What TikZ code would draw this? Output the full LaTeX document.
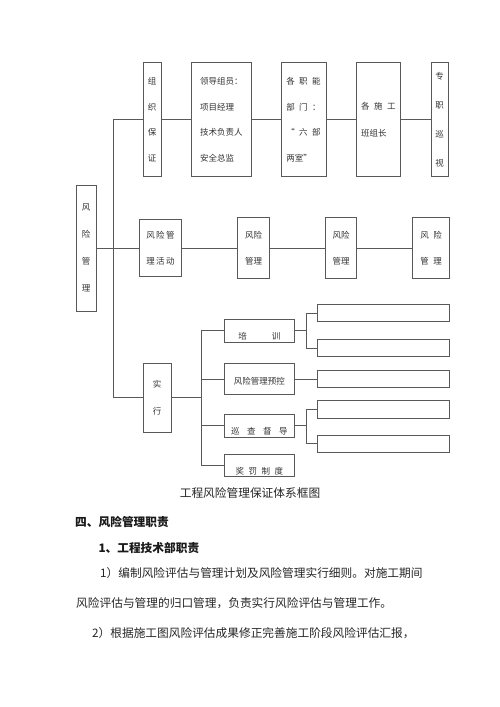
\documentclass[tikz,border=0pt]{standalone}
\usepackage{fontspec}
\newfontfamily\cjk{Noto Sans CJK SC}
\definecolor{linec}{gray}{0.35}
\definecolor{txt}{gray}{0.2}
\newcommand{\kgap}{\hspace{4.5pt}}
\tikzset{
  box/.style={draw=linec, line width=0.8pt, inner sep=0pt, align=center, text=txt},
  lsk/.style={font=\cjk\fontsize{8.5}{#1}\selectfont},
  lsk/.default=26,
  conn/.style={draw=linec, line width=0.8pt},
  para/.style={inner sep=0pt, text=black!85, font=\cjk\fontsize{11.7}{14}\selectfont},
  parab/.style={inner sep=0pt, text=black!90, font=\cjk\bfseries\fontsize{11.7}{14}\selectfont},
}
\begin{document}
\begin{tikzpicture}[x=1pt,y=-1pt]
\useasboundingbox (0,0) rectangle (500,707);
\fill[white] (0,0) rectangle (500,707);

% left root
\node[box, lsk=27, minimum width=20pt, minimum height=126pt] (risk) at (86,248) {风\\险\\管\\理};

% top row
\node[box, lsk=25.7, minimum width=18pt, minimum height=114pt] (org) at (152,119.7) {组\\织\\保\\证};
\node[box, lsk=25.7, align=left, minimum width=59.3pt, minimum height=114pt] (lead) at (221.3,119.7) {领导组员：\\项目经理\\技术负责人\\安全总监};
\node[box, lsk=25.7, align=left, minimum width=45pt, minimum height=114pt] (func) at (303.5,119.7) {各\kgap 职\kgap 能\\部\kgap 门\kgap ：\\“\kgap 六\kgap 部\\两室”};
\node[box, lsk=27, align=left, minimum width=44.7pt, minimum height=114pt] (team) at (378.3,119.7) {各\kgap 施\kgap 工\\班组长};
\node[box, lsk=29, minimum width=17pt, minimum height=114pt] (patrol) at (439.7,119.7) {专\\职\\巡\\视};

% middle row
\node[box, lsk=26.3, minimum width=42.4pt, minimum height=57.4pt] (act) at (160.5,248) {风\hspace{1.5pt}险\hspace{1.5pt}管\\理\hspace{1.5pt}活\hspace{1.5pt}动};
\node[box, lsk=26.3, minimum width=31.6pt, minimum height=61pt] (m1) at (253.5,248) {风险\\管理};
\node[box, lsk=26.3, minimum width=31pt, minimum height=60.6pt] (m2) at (341.2,248) {风险\\管理};
\node[box, lsk=26.3, minimum width=36.6pt, minimum height=61pt] (m3) at (431,248) {风\kgap 险\\管\kgap 理};

% bottom part
\node[box, lsk=26.7, minimum width=27.7pt, minimum height=69pt] (impl) at (157.2,397.8) {实\\行};
\node[box, lsk, minimum width=70pt, minimum height=23pt, text height=18pt, text depth=0pt] (train) at (259.3,330.8) {培\hspace{25pt}训};
\node[box, lsk, minimum width=70pt, minimum height=30.7pt, text height=11.6pt, text depth=0pt] (yukong) at (259.3,379) {风险管理预控};
\node[box, lsk, minimum width=70pt, minimum height=23.7pt, text height=18pt, text depth=0pt] (xun) at (259.3,425.8) {巡\hspace{7.5pt}查\hspace{7.5pt}督\hspace{7.5pt}导};
\node[box, lsk, minimum width=70pt, minimum height=22.4pt, text height=17pt, text depth=0pt] (jiang) at (259.3,465.5) {奖\kgap 罚\kgap 制\kgap 度};

\node[box, minimum width=131.3pt, minimum height=17.4pt] (r1) at (383.3,313) {};
\node[box, minimum width=131.3pt, minimum height=17.4pt] (r2) at (383.3,348) {};
\node[box, minimum width=131.3pt, minimum height=17.4pt] (r3) at (383.3,379) {};
\node[box, minimum width=131.3pt, minimum height=17.4pt] (r4) at (383.3,409.5) {};
\node[box, minimum width=131.3pt, minimum height=17.4pt] (r5) at (383.3,443.8) {};

% connectors
\coordinate (mj) at (113,248);
\draw[conn] (risk.east) -- (act.west);
\draw[conn] (org.west) -| (mj);
\draw[conn] (impl.west) -| (mj);
\draw[conn] (org.east) -- (lead.west);
\draw[conn] (lead.east) -- (func.west);
\draw[conn] (func.east) -- (team.west);
\draw[conn] (team.east) -- (patrol.west);
\draw[conn] (act.east) -- (m1.west);
\draw[conn] (m1.east) -- (m2.west);
\draw[conn] (m2.east) -- (m3.west);

\coordinate (sj) at (201,397.8);
\draw[conn] (impl.east) -- (sj);
\draw[conn] (train.west) -| (sj);
\draw[conn] (yukong.west) -| (sj);
\draw[conn] (xun.west) -| (sj);
\draw[conn] (jiang.west) -| (sj);

\coordinate (tj) at (306,330.8);
\draw[conn] (train.east) -- (tj);
\draw[conn] (r1.west) -| (tj);
\draw[conn] (r2.west) -| (tj);
\draw[conn] (yukong.east) -- (r3.west);
\coordinate (xj) at (306,425.8);
\draw[conn] (xun.east) -- (xj);
\draw[conn] (r4.west) -| (xj);
\draw[conn] (r5.west) -| (xj);

% text below
\node[para, anchor=base] (cap) at (250,497.4) {工程风险管理保证体系框图};
\node[parab, anchor=base west] (h1) at (75,526) {四、风险管理职责};
\node[parab, anchor=base west] (h2) at (98.3,552.4) {1、工程技术部职责};
\node[para, anchor=base west] (p1) at (100,577.7) {1）编制风险评估与管理计划及风险管理实行细则。对施工期间};
\node[para, anchor=base west] (p2) at (76,607.7) {风险评估与管理的归口管理，负责实行风险评估与管理工作。};
\node[para, anchor=base west] (p3) at (92,637.7) {2）根据施工图风险评估成果修正完善施工阶段风险评估汇报，};
\end{tikzpicture}
\end{document}
